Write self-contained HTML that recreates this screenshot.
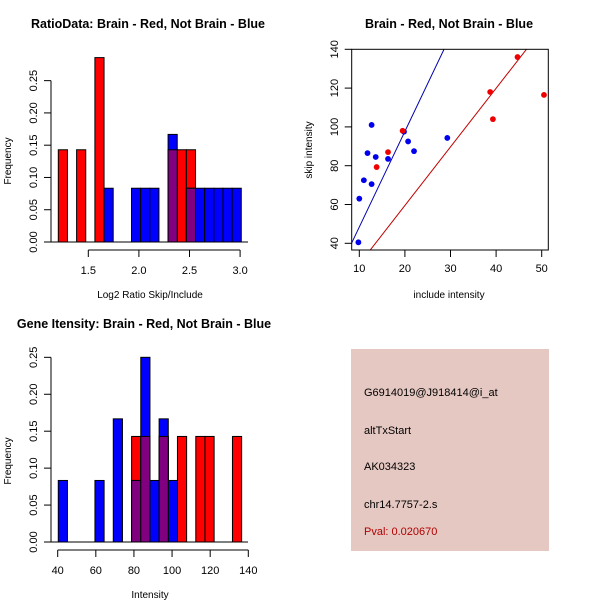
<!DOCTYPE html>
<html><head><meta charset="utf-8"><style>
body{margin:0;background:#fff;width:600px;height:600px;overflow:hidden}
svg{display:block;font-family:"Liberation Sans",sans-serif}
</style></head><body>
<svg id="c" width="600" height="600" xmlns="http://www.w3.org/2000/svg">
<rect x="351" y="349" width="198" height="202" fill="#e6c8c2"/>
<g font-size="11" fill="#000">
<text x="364" y="396">G6914019@J918414@i_at</text>
<text x="364" y="434">altTxStart</text>
<text x="364" y="470">AK034323</text>
<text x="364" y="508">chr14.7757-2.s</text>
<text x="364" y="535" fill="#b00000">Pval: 0.020670</text>
</g>
</svg>
<script>
// Ratio histogram data (bin index, frequency)
const ratioBinStart = 1.2036, ratioBinWidth = 0.0904;
const ratioRedBins = [0, 2, 4, 12, 13, 14];
const ratioRedFreq = [0.1429, 0.1429, 0.2857, 0.1429, 0.1429, 0.1429];
const ratioBlueBins = [5, 8, 9, 10, 12, 14, 15, 16, 17, 18, 19];
const ratioBlueFreq = [0.0833, 0.0833, 0.0833, 0.0833, 0.1667, 0.0833, 0.0833, 0.0833, 0.0833, 0.0833, 0.0833];
const ratioXTicks = [1.5, 2.0, 2.5, 3.0];
const ratioYTicks = [0, 0.05, 0.10, 0.15, 0.20, 0.25];
// Intensity histogram
const intBinStart = 40.3, intBinWidth = 4.81;
const intRedBins = [8, 9, 11, 13, 15, 16, 19];
const intRedFreq = [0.1429, 0.1429, 0.1429, 0.1429, 0.1429, 0.1429, 0.1429];
const intBlueBins = [0, 4, 6, 8, 9, 10, 11, 12];
const intBlueFreq = [0.0833, 0.0833, 0.1667, 0.0833, 0.25, 0.0833, 0.1667, 0.0833];
const intXTicks = [40, 60, 80, 100, 120, 140];
const intYTicks = [0, 0.05, 0.10, 0.15, 0.20, 0.25];
// Scatter
const blueX = [9.8, 10, 11, 11.8, 12.7, 12.7, 13.6, 16.3, 19.8, 20.7, 22, 29.3];
const blueY = [40.5, 63, 72.5, 86.5, 101, 70.5, 84.5, 83.5, 97.5, 92.5, 87.5, 94.3];
const redX = [13.8, 16.3, 19.5, 38.7, 39.3, 44.7, 50.5];
const redY = [79.3, 87, 98, 118, 104, 136, 116.5];
const blueLine = [4.93, -0.9];
const redLine = [3.02, -0.9];
const scXTicks = [10, 20, 30, 40, 50];
const scYTicks = [40, 60, 80, 100, 120, 140];

const svg = document.getElementById('c');
const NS = 'http://www.w3.org/2000/svg';
function el(tag, attrs, parent) {
  const e = document.createElementNS(NS, tag);
  for (const k in attrs) e.setAttribute(k, attrs[k]);
  (parent || svg).appendChild(e);
  return e;
}
function txt(x, y, s, attrs) {
  const t = el('text', Object.assign({x: x, y: y, 'text-anchor': 'middle', 'font-size': 11}, attrs || {}));
  t.textContent = s;
  return t;
}
function fmt(v) { return v.toFixed(2); }

function histogram(name, xs, ys, binStart, binW, redBins, redFreq, blueBins, blueFreq, xTicks, yTicks, xFmt, title, titleX, xlab) {
  const g = el('g', {});
  
  
  const bar = (k, f, color, nm) => {
    const x0 = xs(binStart + k * binW), x1 = xs(binStart + (k + 1) * binW);
    const r = el('rect', {x: x0, y: ys(f), width: x1 - x0, height: ys(0) - ys(f), fill: color, stroke: '#000', 'stroke-width': 1}, g);
    
    
  };
  redBins.forEach((k, i) => bar(k, redFreq[i], '#ff0000', 'red-bar'));
  blueBins.forEach((k, i) => bar(k, blueFreq[i], '#0000ff', 'blue-bar'));
  blueBins.forEach((k, i) => {
    const j = redBins.indexOf(k);
    if (j >= 0) bar(k, Math.min(redFreq[j], blueFreq[i]), '#800080', 'overlap-bar');
  });
  const ya = el('g', {stroke: '#000', 'stroke-width': 1}, g);
  
  
  el('line', {x1: 51, x2: 51, y1: ys(yTicks[0]), y2: ys(yTicks[yTicks.length - 1])}, ya);
  yTicks.forEach(v => {
    el('line', {x1: 44, x2: 51, y1: ys(v), y2: ys(v)}, ya);
    const t = txt(0, 0, fmt(v), {transform: 'translate(37,' + ys(v) + ') rotate(-90)', stroke: 'none'});
    
    
  });
  const xa = el('g', {stroke: '#000', 'stroke-width': 1}, g);
  
  
  const ay = ys(0) + 8;
  el('line', {x1: xs(xTicks[0]), x2: xs(xTicks[xTicks.length - 1]), y1: ay, y2: ay}, xa);
  xTicks.forEach(v => {
    el('line', {x1: xs(v), x2: xs(v), y1: ay, y2: ay + 7}, xa);
    const t = txt(xs(v), ay + 24, xFmt(v), {stroke: 'none'});
    
    
  });
  const bl = el('line', {x1: 51, x2: 248, y1: ys(0), y2: ys(0), stroke: '#000'}, g);
  
  
  const tt = txt(titleX, ys(0) - 214, title, {'font-weight': 'bold', 'font-size': 12.5});
  
  
  const xl = txt(150, ay + 48, xlab, {'font-size': 10});
  
  
  const yl = txt(0, 0, 'Frequency', {'font-size': 10, transform: 'translate(11,' + (ys(0) - 81) + ') rotate(-90)'});
  
  
}

histogram('ratio-histogram',
  v => 88.3 + (v - 1.5) * 101.2, f => 242 - f * 645.4,
  ratioBinStart, ratioBinWidth, ratioRedBins, ratioRedFreq, ratioBlueBins, ratioBlueFreq,
  ratioXTicks, ratioYTicks, v => v.toFixed(1), 'RatioData: Brain - Red, Not Brain - Blue', 148, 'Log2 Ratio Skip/Include');
histogram('intensity-histogram',
  v => 57.7 + (v - 40) * 1.906, f => 542 - f * 738.7,
  intBinStart, intBinWidth, intRedBins, intRedFreq, intBlueBins, intBlueFreq,
  intXTicks, intYTicks, v => String(v), 'Gene Itensity: Brain - Red, Not Brain - Blue', 144, 'Intensity');

// scatter
const sx = v => 359.3 + (v - 10) * 4.56;
const sy = v => 243.3 - (v - 40) * 1.94;
const sg = el('g', {});


const cp = el('clipPath', {id: 'clp'}, sg);
el('rect', {x: 351.7, y: 49.3, width: 196.6, height: 200.7}, cp);
const lineFor = (p, color, nm) => {
  const l = el('line', {x1: sx(0), y1: sy(p[1]), x2: sx(60), y2: sy(p[0] * 60 + p[1]), stroke: color, 'stroke-width': 1, 'clip-path': 'url(#clp)'}, sg);
  
  
};
lineFor(blueLine, '#0000b0', 'blue-fit-line');
lineFor(redLine, '#c00000', 'red-fit-line');
blueX.forEach((x, i) => {
  const c = el('circle', {cx: sx(x), cy: sy(blueY[i]), r: 2.9, fill: '#0000ee'}, sg);
  
  
});
redX.forEach((x, i) => {
  const c = el('circle', {cx: sx(x), cy: sy(redY[i]), r: 2.9, fill: '#ee0000'}, sg);
  
  
});
const box = el('rect', {x: 351.7, y: 49.3, width: 196.6, height: 200.7, fill: 'none', stroke: '#000'}, sg);


scXTicks.forEach(v => {
  el('line', {x1: sx(v), x2: sx(v), y1: 250, y2: 257, stroke: '#000'}, sg);
  const t = txt(sx(v), 272, String(v));
  
  
});
scYTicks.forEach(v => {
  el('line', {x1: 344.7, x2: 351.7, y1: sy(v), y2: sy(v), stroke: '#000'}, sg);
  const t = txt(0, 0, String(v), {transform: 'translate(338,' + sy(v) + ') rotate(-90)'});
  
  
});
const st = txt(449, 28, 'Brain - Red, Not Brain - Blue', {'font-weight': 'bold', 'font-size': 12.5});


const sxl = txt(449, 298, 'include intensity', {'font-size': 10});


const syl = txt(0, 0, 'skip intensity', {'font-size': 10, transform: 'translate(312,150) rotate(-90)'});


</script>
</body></html>
